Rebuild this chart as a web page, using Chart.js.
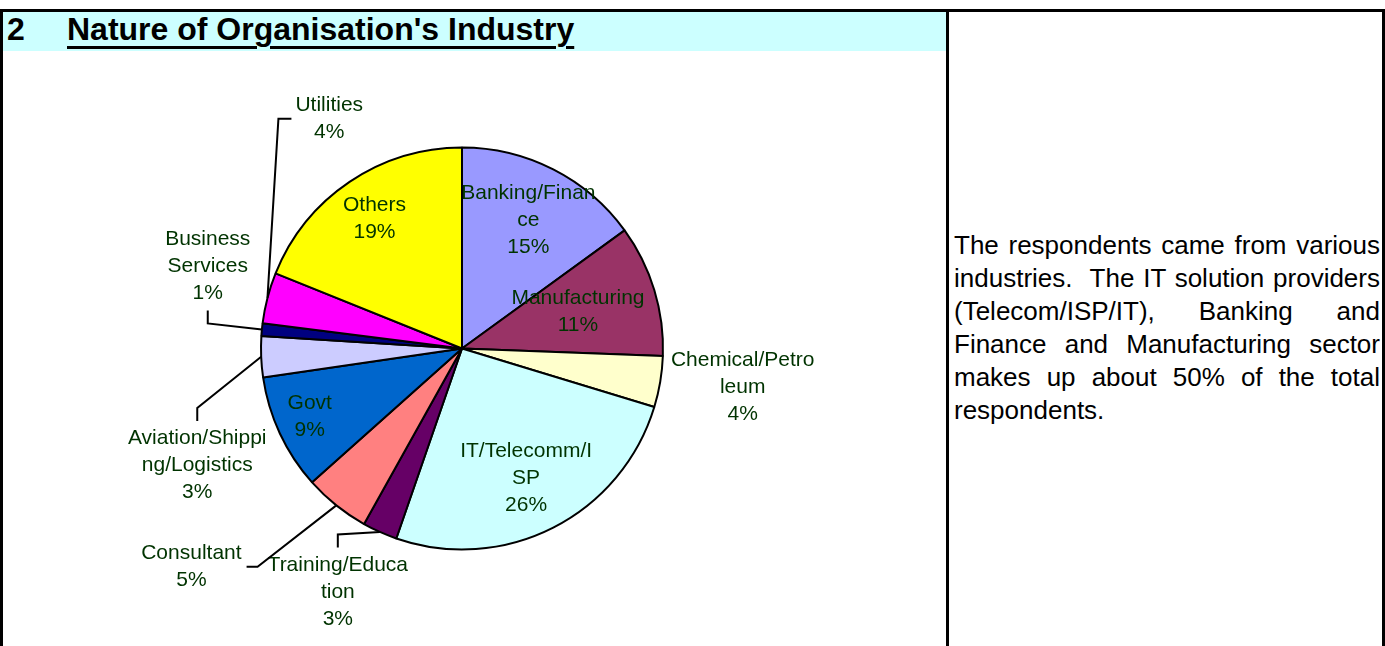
<!DOCTYPE html>
<html>
<head>
<meta charset="utf-8">
<title>Nature of Organisation's Industry</title>
<script src="https://cdn.jsdelivr.net/npm/chart.js@4.4.0/dist/chart.umd.min.js"></script>
<style>
  html, body { margin: 0; padding: 0; background: #fff; }
  body {
    width: 1385px; height: 646px; position: relative; overflow: hidden;
    font-family: Arial, "Liberation Sans", sans-serif;
  }
  .rule { position: absolute; background: #000; }
  .titlebar {
    position: absolute; left: 3px; top: 12px; width: 943px; height: 39px;
    background: #ccffff;
  }
  .titlebar span {
    position: absolute; top: 1px; font-weight: bold; font-size: 32px;
    line-height: 32px; color: #000; white-space: nowrap;
  }
  .titlebar .num { left: 4px; }
  .titlebar .name {
    left: 64px; text-decoration: underline;
    text-decoration-thickness: 3px; text-underline-offset: 6px;
  }
  #chartBox { position: absolute; left: 3px; top: 51px; width: 943px; height: 595px; }
  .note {
    position: absolute; left: 954px; top: 229px; width: 426px;
    font-size: 26px; line-height: 33px; text-align: justify; color: #000;
  }
</style>
</head>
<body>
<div class="rule" style="left:0;top:9px;width:1385px;height:3px"></div>
<div class="rule" style="left:0;top:9px;width:3px;height:637px"></div>
<div class="rule" style="left:946px;top:9px;width:3px;height:637px"></div>
<div class="rule" style="left:1382px;top:9px;width:3px;height:637px"></div>

<div class="titlebar">
  <span class="num">2</span>
  <span class="name">Nature of Organisation's Industry</span>
</div>

<div id="chartBox"><canvas id="industryChart" width="943" height="595"></canvas></div>

<div class="note">The respondents came from various industries.&nbsp; The IT solution providers (Telecom/ISP/IT), Banking and Finance and Manufacturing sector makes up about 50% of the total respondents.</div>

<script>
// Datos (porcentaje de encuestados por industria)
const industries = [
  "Banking/Finance", "Manufacturing", "Chemical/Petroleum", "IT/Telecomm/ISP",
  "Training/Education", "Consultant", "Govt", "Aviation/Shipping/Logistics",
  "Business Services", "Utilities", "Others"
];
const industryShare = [15.0, 10.6, 4.1, 25.6, 2.8, 5.3, 9.3, 3.3, 1.0, 4.1, 18.9];
const sliceColors = [
  "#9999ff", "#993366", "#ffffcc", "#ccffff", "#660066", "#ff8080",
  "#0066cc", "#ccccff", "#000080", "#ff00ff", "#ffff00"
];
// como se cortan las etiquetas en el grafico original
const labelText = [
  "Banking/Finan\nce", "Manufacturing", "Chemical/Petro\nleum", "IT/Telecomm/I\nSP",
  "Training/Educa\ntion", "Consultant", "Govt", "Aviation/Shippi\nng/Logistics",
  "Business\nServices", "Utilities", "Others"
];

// Posicion de cada etiqueta: distancia (x radio), giro respecto al centro del sector, lado de la linea guia
const labelPlacement = [
  { dist: 0.72, shift: 0.3, side: null },
  { dist: 0.605, shift: -0.6, side: null },
  { dist: 1.41, shift: -1.6, side: null },
  { dist: 0.72, shift: 0.7, side: null },
  { dist: 1.36, shift: 2.9, side: "top" },
  { dist: 1.73, shift: 12.4, side: "right" },
  { dist: 0.83, shift: 0.9, side: null },
  { dist: 1.44, shift: -21.5, side: "top" },
  { dist: 1.33, shift: 12.6, side: "bottom" },
  { dist: 1.32, shift: 45.4, side: "left" },
  { dist: 0.78, shift: 0.1, side: null }
];

const LINE_H = 27;

// Plugin para dibujar etiquetas y lineas guia
const sliceLabels = {
  id: "sliceLabels",
  afterDatasetsDraw(chart) {
    const ctx = chart.ctx;
    const arcs = chart.getDatasetMeta(0).data;
    const total = industryShare.reduce((a, b) => a + b, 0);

    ctx.save();
    ctx.font = "21px Arial, 'Liberation Sans', sans-serif";
    ctx.textAlign = "center";
    ctx.textBaseline = "middle";
    ctx.strokeStyle = "#000";
    ctx.lineWidth = 2;

    arcs.forEach((arc, i) => {
      const p = arc.getProps(["x", "y", "startAngle", "endAngle", "outerRadius"], true);
      const mid = (p.startAngle + p.endAngle) / 2;
      const place = labelPlacement[i];
      const a = mid + place.shift * Math.PI / 180;
      const cx = p.x + Math.cos(a) * p.outerRadius * place.dist;
      const cy = p.y + Math.sin(a) * p.outerRadius * place.dist;

      const pct = Math.round(industryShare[i] / total * 100) + "%";
      const lines = labelText[i].split("\n").concat(pct);
      const boxW = Math.max(...lines.map(l => ctx.measureText(l).width));
      const boxH = lines.length * LINE_H;

      if (place.side) {
        const sx = p.x + Math.cos(mid) * p.outerRadius;
        const sy = p.y + Math.sin(mid) * p.outerRadius;
        let ex, ey, kx, ky;
        if (place.side === "left") {
          ex = cx - boxW / 2 - 4; ey = cy; kx = ex - 13; ky = ey;
        } else if (place.side === "right") {
          ex = cx + boxW / 2 + 5; ey = cy; kx = ex + 11; ky = ey;
        } else if (place.side === "top") {
          ex = cx; ey = cy - boxH / 2 - 4; kx = ex; ky = ey - 13;
        } else {
          ex = cx; ey = cy + boxH / 2 + 4; kx = ex; ky = ey + 13;
        }
        ctx.beginPath();
        ctx.moveTo(sx, sy);
        ctx.lineTo(kx, ky);
        ctx.lineTo(ex, ey);
        ctx.stroke();
      }

      ctx.fillStyle = "#003300";
      lines.forEach((l, k) => {
        ctx.fillText(l, cx, cy + (k - (lines.length - 1) / 2) * LINE_H);
      });
    });
    ctx.restore();
  }
};

const chartCanvas = document.getElementById("industryChart");

const industryChart = new Chart(chartCanvas, {
  type: "pie",
  data: {
    labels: industries,
    datasets: [{
      data: industryShare,
      backgroundColor: sliceColors,
      borderColor: "#000000",
      borderWidth: 2,
      radius: 201
    }]
  },
  options: {
    responsive: false,
    animation: false,
    events: [],
    layout: { padding: { left: 0, right: 25, top: 0, bottom: 0 } },
    plugins: {
      legend: { display: false },
      tooltip: { enabled: false }
    }
  },
  plugins: [sliceLabels]
});
</script>
</body>
</html>
